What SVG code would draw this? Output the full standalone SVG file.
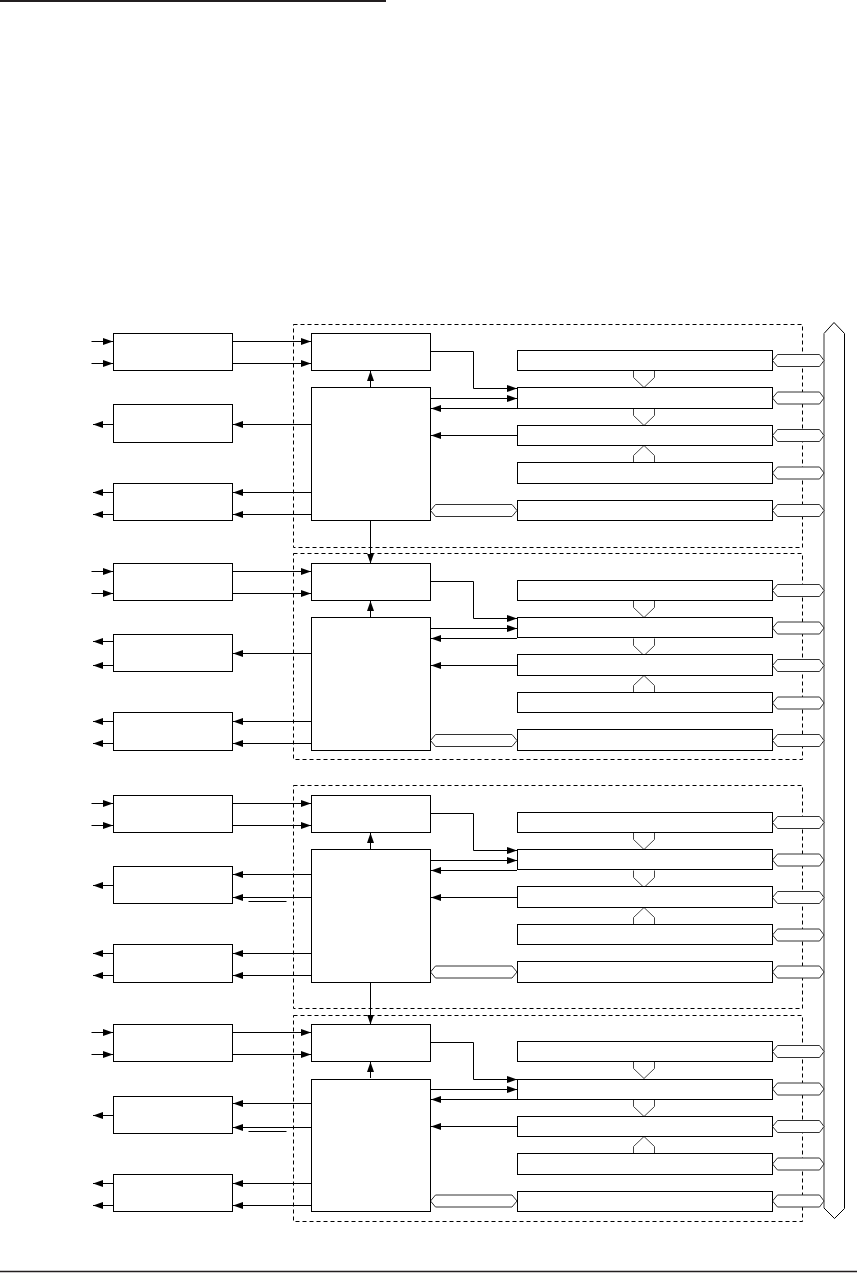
<svg xmlns="http://www.w3.org/2000/svg" xmlns:xlink="http://www.w3.org/1999/xlink" width="857" height="1273" viewBox="0 0 857 1273">
<style>
.box{fill:#fff;stroke:#000;stroke-width:1}
.frame{fill:none;stroke:#000;stroke-width:1;stroke-dasharray:4 3}
.wire{fill:none;stroke:#000;stroke-width:1}
.arr{marker-end:url(#ah)}
.hex{fill:#fff;stroke:#333;stroke-width:1}
.pent{fill:#fff;stroke:#444;stroke-width:1}
.rule{stroke:#231f20;fill:none}
</style>
<defs>
<marker id="ah" markerUnits="userSpaceOnUse" markerWidth="10" markerHeight="8" refX="10" refY="4" orient="auto">
<path d="M0,0.5 L10,4 L0,7.5 z" fill="#000"/>
</marker>
<polygon id="rhex" class="hex" points="772.5,0 777.5,-6 819.5,-6 824,0 819.5,6 777.5,6"/>
<polygon id="lhex" class="hex" points="430.5,0 435.5,-6 512,-6 517,0 512,6 435.5,6"/>
<polyline id="pdown" class="pent" points="633.5,0 633.5,7 644,17 654.5,7 654.5,0"/>
<polyline id="pup" class="pent" points="633.5,0 633.5,-7 644,-17 654.5,-7 654.5,0"/>
</defs>
<rect width="857" height="1273" fill="#fff"/>
<line class="rule" x1="0" y1="1" x2="386" y2="1" stroke-width="2"/>
<line class="rule" x1="0" y1="1271.5" x2="857" y2="1271.5" stroke-width="1.5"/>

<g id="frames">
<rect class="frame" x="293.5" y="324.5" width="509" height="223"/>
<rect class="frame" x="293.5" y="553.5" width="509" height="206"/>
<rect class="frame" x="293.5" y="785.5" width="509" height="223"/>
<rect class="frame" x="293.5" y="1015.5" width="509" height="206"/>
</g>

<g id="bus">
<path d="M824,1208 L824,333.5 L834,322.5 L844.5,333.5 L844.5,1208.5 L834.5,1218.5 Z" fill="#fff" stroke="none"/>
<path d="M824,333.5 L834,322.5 L844.5,333.5 L844.5,1208.5 L834.5,1218.5 L824,1208" fill="none" stroke="#000" stroke-width="1"/>
<line x1="824" y1="333.5" x2="824" y2="1208" stroke="#9a9a9a" stroke-width="2"/>
</g>

<g id="connectors">
<line class="wire arr" x1="370.5" y1="520.5" x2="370.5" y2="563.5"/>
<line class="wire arr" x1="370.5" y1="982.5" x2="370.5" y2="1024.5"/>
<g transform="translate(0,0)">
<line class="wire arr" x1="91.5" y1="341.5" x2="113" y2="341.5"/>
<line class="wire arr" x1="91.5" y1="363.5" x2="113" y2="363.5"/>
<line class="wire arr" x1="232.5" y1="341.5" x2="311" y2="341.5"/>
<line class="wire arr" x1="232.5" y1="363.5" x2="311" y2="363.5"/>
<line class="wire arr" x1="370.5" y1="387" x2="370.5" y2="371"/>
<line class="wire arr" x1="311" y1="424.5" x2="233" y2="424.5"/>
<line class="wire arr" x1="113" y1="424.5" x2="93" y2="424.5"/>
<line class="wire arr" x1="311" y1="492.5" x2="233" y2="492.5"/>
<line class="wire arr" x1="311" y1="514.5" x2="233" y2="514.5"/>
<line class="wire arr" x1="113" y1="492.5" x2="93" y2="492.5"/>
<line class="wire arr" x1="113" y1="514.5" x2="93" y2="514.5"/>
<polyline class="wire arr" points="430.5,351.5 473.5,351.5 473.5,388.5 517,388.5"/>
<line class="wire arr" x1="430.5" y1="398.5" x2="517" y2="398.5"/>
<line class="wire arr" x1="517" y1="408.5" x2="431" y2="408.5"/>
<line class="wire arr" x1="517" y1="435.5" x2="431" y2="435.5"/>
</g>
<g transform="translate(0,230)">
<line class="wire arr" x1="91.5" y1="341.5" x2="113" y2="341.5"/>
<line class="wire arr" x1="91.5" y1="363.5" x2="113" y2="363.5"/>
<line class="wire arr" x1="232.5" y1="341.5" x2="311" y2="341.5"/>
<line class="wire arr" x1="232.5" y1="363.5" x2="311" y2="363.5"/>
<line class="wire arr" x1="370.5" y1="387" x2="370.5" y2="371"/>
<line class="wire arr" x1="311" y1="423.5" x2="233" y2="423.5"/>
<line class="wire arr" x1="113" y1="411.5" x2="93" y2="411.5"/>
<line class="wire arr" x1="113" y1="435.5" x2="93" y2="435.5"/>
<line class="wire arr" x1="311" y1="491.5" x2="233" y2="491.5"/>
<line class="wire arr" x1="311" y1="513.5" x2="233" y2="513.5"/>
<line class="wire arr" x1="113" y1="491.5" x2="93" y2="491.5"/>
<line class="wire arr" x1="113" y1="513.5" x2="93" y2="513.5"/>
<polyline class="wire arr" points="430.5,351.5 473.5,351.5 473.5,388.5 517,388.5"/>
<line class="wire arr" x1="430.5" y1="398.5" x2="517" y2="398.5"/>
<line class="wire arr" x1="517" y1="408.5" x2="431" y2="408.5"/>
<line class="wire arr" x1="517" y1="435.5" x2="431" y2="435.5"/>
</g>
<g transform="translate(0,462)">
<line class="wire arr" x1="91.5" y1="341.5" x2="113" y2="341.5"/>
<line class="wire arr" x1="91.5" y1="363.5" x2="113" y2="363.5"/>
<line class="wire arr" x1="232.5" y1="341.5" x2="311" y2="341.5"/>
<line class="wire arr" x1="232.5" y1="363.5" x2="311" y2="363.5"/>
<line class="wire arr" x1="370.5" y1="387" x2="370.5" y2="371"/>
<line class="wire arr" x1="311" y1="412.5" x2="233" y2="412.5"/>
<line class="wire arr" x1="311" y1="435.5" x2="233" y2="435.5"/>
<line class="wire" x1="248.5" y1="439.5" x2="286.5" y2="439.5"/>
<line class="wire arr" x1="113" y1="423.5" x2="93" y2="423.5"/>
<line class="wire arr" x1="311" y1="491.5" x2="233" y2="491.5"/>
<line class="wire arr" x1="311" y1="513.5" x2="233" y2="513.5"/>
<line class="wire arr" x1="113" y1="491.5" x2="93" y2="491.5"/>
<line class="wire arr" x1="113" y1="513.5" x2="93" y2="513.5"/>
<polyline class="wire arr" points="430.5,351.5 473.5,351.5 473.5,388.5 517,388.5"/>
<line class="wire arr" x1="430.5" y1="398.5" x2="517" y2="398.5"/>
<line class="wire arr" x1="517" y1="408.5" x2="431" y2="408.5"/>
<line class="wire arr" x1="517" y1="435.5" x2="431" y2="435.5"/>
</g>
<g transform="translate(0,691)">
<line class="wire arr" x1="91.5" y1="341.5" x2="113" y2="341.5"/>
<line class="wire arr" x1="91.5" y1="363.5" x2="113" y2="363.5"/>
<line class="wire arr" x1="232.5" y1="341.5" x2="311" y2="341.5"/>
<line class="wire arr" x1="232.5" y1="363.5" x2="311" y2="363.5"/>
<line class="wire arr" x1="370.5" y1="387" x2="370.5" y2="371"/>
<line class="wire arr" x1="311" y1="412.5" x2="233" y2="412.5"/>
<line class="wire arr" x1="311" y1="436.5" x2="233" y2="436.5"/>
<line class="wire" x1="248.5" y1="440.5" x2="286.5" y2="440.5"/>
<line class="wire arr" x1="113" y1="424.5" x2="93" y2="424.5"/>
<line class="wire arr" x1="311" y1="492.5" x2="233" y2="492.5"/>
<line class="wire arr" x1="311" y1="514.5" x2="233" y2="514.5"/>
<line class="wire arr" x1="113" y1="492.5" x2="93" y2="492.5"/>
<line class="wire arr" x1="113" y1="514.5" x2="93" y2="514.5"/>
<polyline class="wire arr" points="430.5,351.5 473.5,351.5 473.5,388.5 517,388.5"/>
<line class="wire arr" x1="430.5" y1="398.5" x2="517" y2="398.5"/>
<line class="wire arr" x1="517" y1="408.5" x2="431" y2="408.5"/>
<line class="wire arr" x1="517" y1="435.5" x2="431" y2="435.5"/>
</g>
</g>

<g id="section1" transform="translate(0,0)">
<g id="s1-links">
<use xlink:href="#pdown" href="#pdown" y="370.5"/>
<use xlink:href="#pdown" href="#pdown" y="408.5"/>
<use xlink:href="#pup" href="#pup" y="462.5"/>
<use xlink:href="#lhex" href="#lhex" y="510.5"/>
<use xlink:href="#rhex" href="#rhex" y="360.5"/>
<use xlink:href="#rhex" href="#rhex" y="398"/>
<use xlink:href="#rhex" href="#rhex" y="435.5"/>
<use xlink:href="#rhex" href="#rhex" y="473"/>
<use xlink:href="#rhex" href="#rhex" y="510.5"/>
</g>
<g id="s1-A"><rect class="box" x="113.5" y="333.5" width="119" height="37"/></g>
<g id="s1-C"><rect class="box" x="113.5" y="404.5" width="119" height="38"/></g>
<g id="s1-D"><rect class="box" x="113.5" y="483.5" width="119" height="37"/></g>
<g id="s1-T"><rect class="box" x="311.5" y="333.5" width="119" height="37"/></g>
<g id="s1-B"><rect class="box" x="311.5" y="387.5" width="119" height="133"/></g>
<g id="s1-bar1"><rect class="box" x="517.5" y="350.5" width="255" height="20"/></g>
<g id="s1-bar2"><rect class="box" x="517.5" y="387.5" width="255" height="21"/></g>
<g id="s1-bar3"><rect class="box" x="517.5" y="425.5" width="255" height="20"/></g>
<g id="s1-bar4"><rect class="box" x="517.5" y="462.5" width="255" height="21"/></g>
<g id="s1-bar5"><rect class="box" x="517.5" y="500.5" width="255" height="20"/></g>
</g>

<g id="section2" transform="translate(0,230)">
<g id="s2-links">
<use xlink:href="#pdown" href="#pdown" y="370.5"/>
<use xlink:href="#pdown" href="#pdown" y="408.5"/>
<use xlink:href="#pup" href="#pup" y="462.5"/>
<use xlink:href="#lhex" href="#lhex" y="510.5"/>
<use xlink:href="#rhex" href="#rhex" y="360.5"/>
<use xlink:href="#rhex" href="#rhex" y="398"/>
<use xlink:href="#rhex" href="#rhex" y="435.5"/>
<use xlink:href="#rhex" href="#rhex" y="473"/>
<use xlink:href="#rhex" href="#rhex" y="510.5"/>
</g>
<g id="s2-A"><rect class="box" x="113.5" y="333.5" width="119" height="37"/></g>
<g id="s2-C"><rect class="box" x="113.5" y="404.5" width="119" height="37"/></g>
<g id="s2-D"><rect class="box" x="113.5" y="482.5" width="119" height="38"/></g>
<g id="s2-T"><rect class="box" x="311.5" y="333.5" width="119" height="37"/></g>
<g id="s2-B"><rect class="box" x="311.5" y="387.5" width="119" height="133"/></g>
<g id="s2-bar1"><rect class="box" x="517.5" y="350.5" width="255" height="20"/></g>
<g id="s2-bar2"><rect class="box" x="517.5" y="387.5" width="255" height="20"/></g>
<g id="s2-bar3"><rect class="box" x="517.5" y="424.5" width="255" height="21"/></g>
<g id="s2-bar4"><rect class="box" x="517.5" y="462.5" width="255" height="20"/></g>
<g id="s2-bar5"><rect class="box" x="517.5" y="499.5" width="255" height="21"/></g>
</g>

<g id="section3" transform="translate(0,462)">
<g id="s3-links">
<use xlink:href="#pdown" href="#pdown" y="370.5"/>
<use xlink:href="#pdown" href="#pdown" y="408.5"/>
<use xlink:href="#pup" href="#pup" y="462.5"/>
<use xlink:href="#lhex" href="#lhex" y="510"/>
<use xlink:href="#rhex" href="#rhex" y="360.5"/>
<use xlink:href="#rhex" href="#rhex" y="398"/>
<use xlink:href="#rhex" href="#rhex" y="435.5"/>
<use xlink:href="#rhex" href="#rhex" y="473"/>
<use xlink:href="#rhex" href="#rhex" y="510"/>
</g>
<g id="s3-A"><rect class="box" x="113.5" y="333.5" width="119" height="37"/></g>
<g id="s3-C"><rect class="box" x="113.5" y="404.5" width="119" height="37"/></g>
<g id="s3-D"><rect class="box" x="113.5" y="482.5" width="119" height="38"/></g>
<g id="s3-T"><rect class="box" x="311.5" y="333.5" width="119" height="37"/></g>
<g id="s3-B"><rect class="box" x="311.5" y="387.5" width="119" height="133"/></g>
<g id="s3-bar1"><rect class="box" x="517.5" y="350.5" width="255" height="20"/></g>
<g id="s3-bar2"><rect class="box" x="517.5" y="387.5" width="255" height="20"/></g>
<g id="s3-bar3"><rect class="box" x="517.5" y="424.5" width="255" height="21"/></g>
<g id="s3-bar4"><rect class="box" x="517.5" y="462.5" width="255" height="20"/></g>
<g id="s3-bar5"><rect class="box" x="517.5" y="499.5" width="255" height="21"/></g>
</g>

<g id="section4" transform="translate(0,691)">
<g id="s4-links">
<use xlink:href="#pdown" href="#pdown" y="370.5"/>
<use xlink:href="#pdown" href="#pdown" y="408.5"/>
<use xlink:href="#pup" href="#pup" y="462.5"/>
<use xlink:href="#lhex" href="#lhex" y="510"/>
<use xlink:href="#rhex" href="#rhex" y="360.5"/>
<use xlink:href="#rhex" href="#rhex" y="398"/>
<use xlink:href="#rhex" href="#rhex" y="435.5"/>
<use xlink:href="#rhex" href="#rhex" y="473"/>
<use xlink:href="#rhex" href="#rhex" y="510"/>
</g>
<g id="s4-A"><rect class="box" x="113.5" y="333.5" width="119" height="37"/></g>
<g id="s4-C"><rect class="box" x="113.5" y="405.5" width="119" height="37"/></g>
<g id="s4-D"><rect class="box" x="113.5" y="483.5" width="119" height="37"/></g>
<g id="s4-T"><rect class="box" x="311.5" y="333.5" width="119" height="37"/></g>
<g id="s4-B"><rect class="box" x="311.5" y="388.5" width="119" height="132"/></g>
<g id="s4-bar1"><rect class="box" x="517.5" y="350.5" width="255" height="20"/></g>
<g id="s4-bar2"><rect class="box" x="517.5" y="388.5" width="255" height="20"/></g>
<g id="s4-bar3"><rect class="box" x="517.5" y="425.5" width="255" height="20"/></g>
<g id="s4-bar4"><rect class="box" x="517.5" y="462.5" width="255" height="21"/></g>
<g id="s4-bar5"><rect class="box" x="517.5" y="500.5" width="255" height="20"/></g>
</g>
</svg>
